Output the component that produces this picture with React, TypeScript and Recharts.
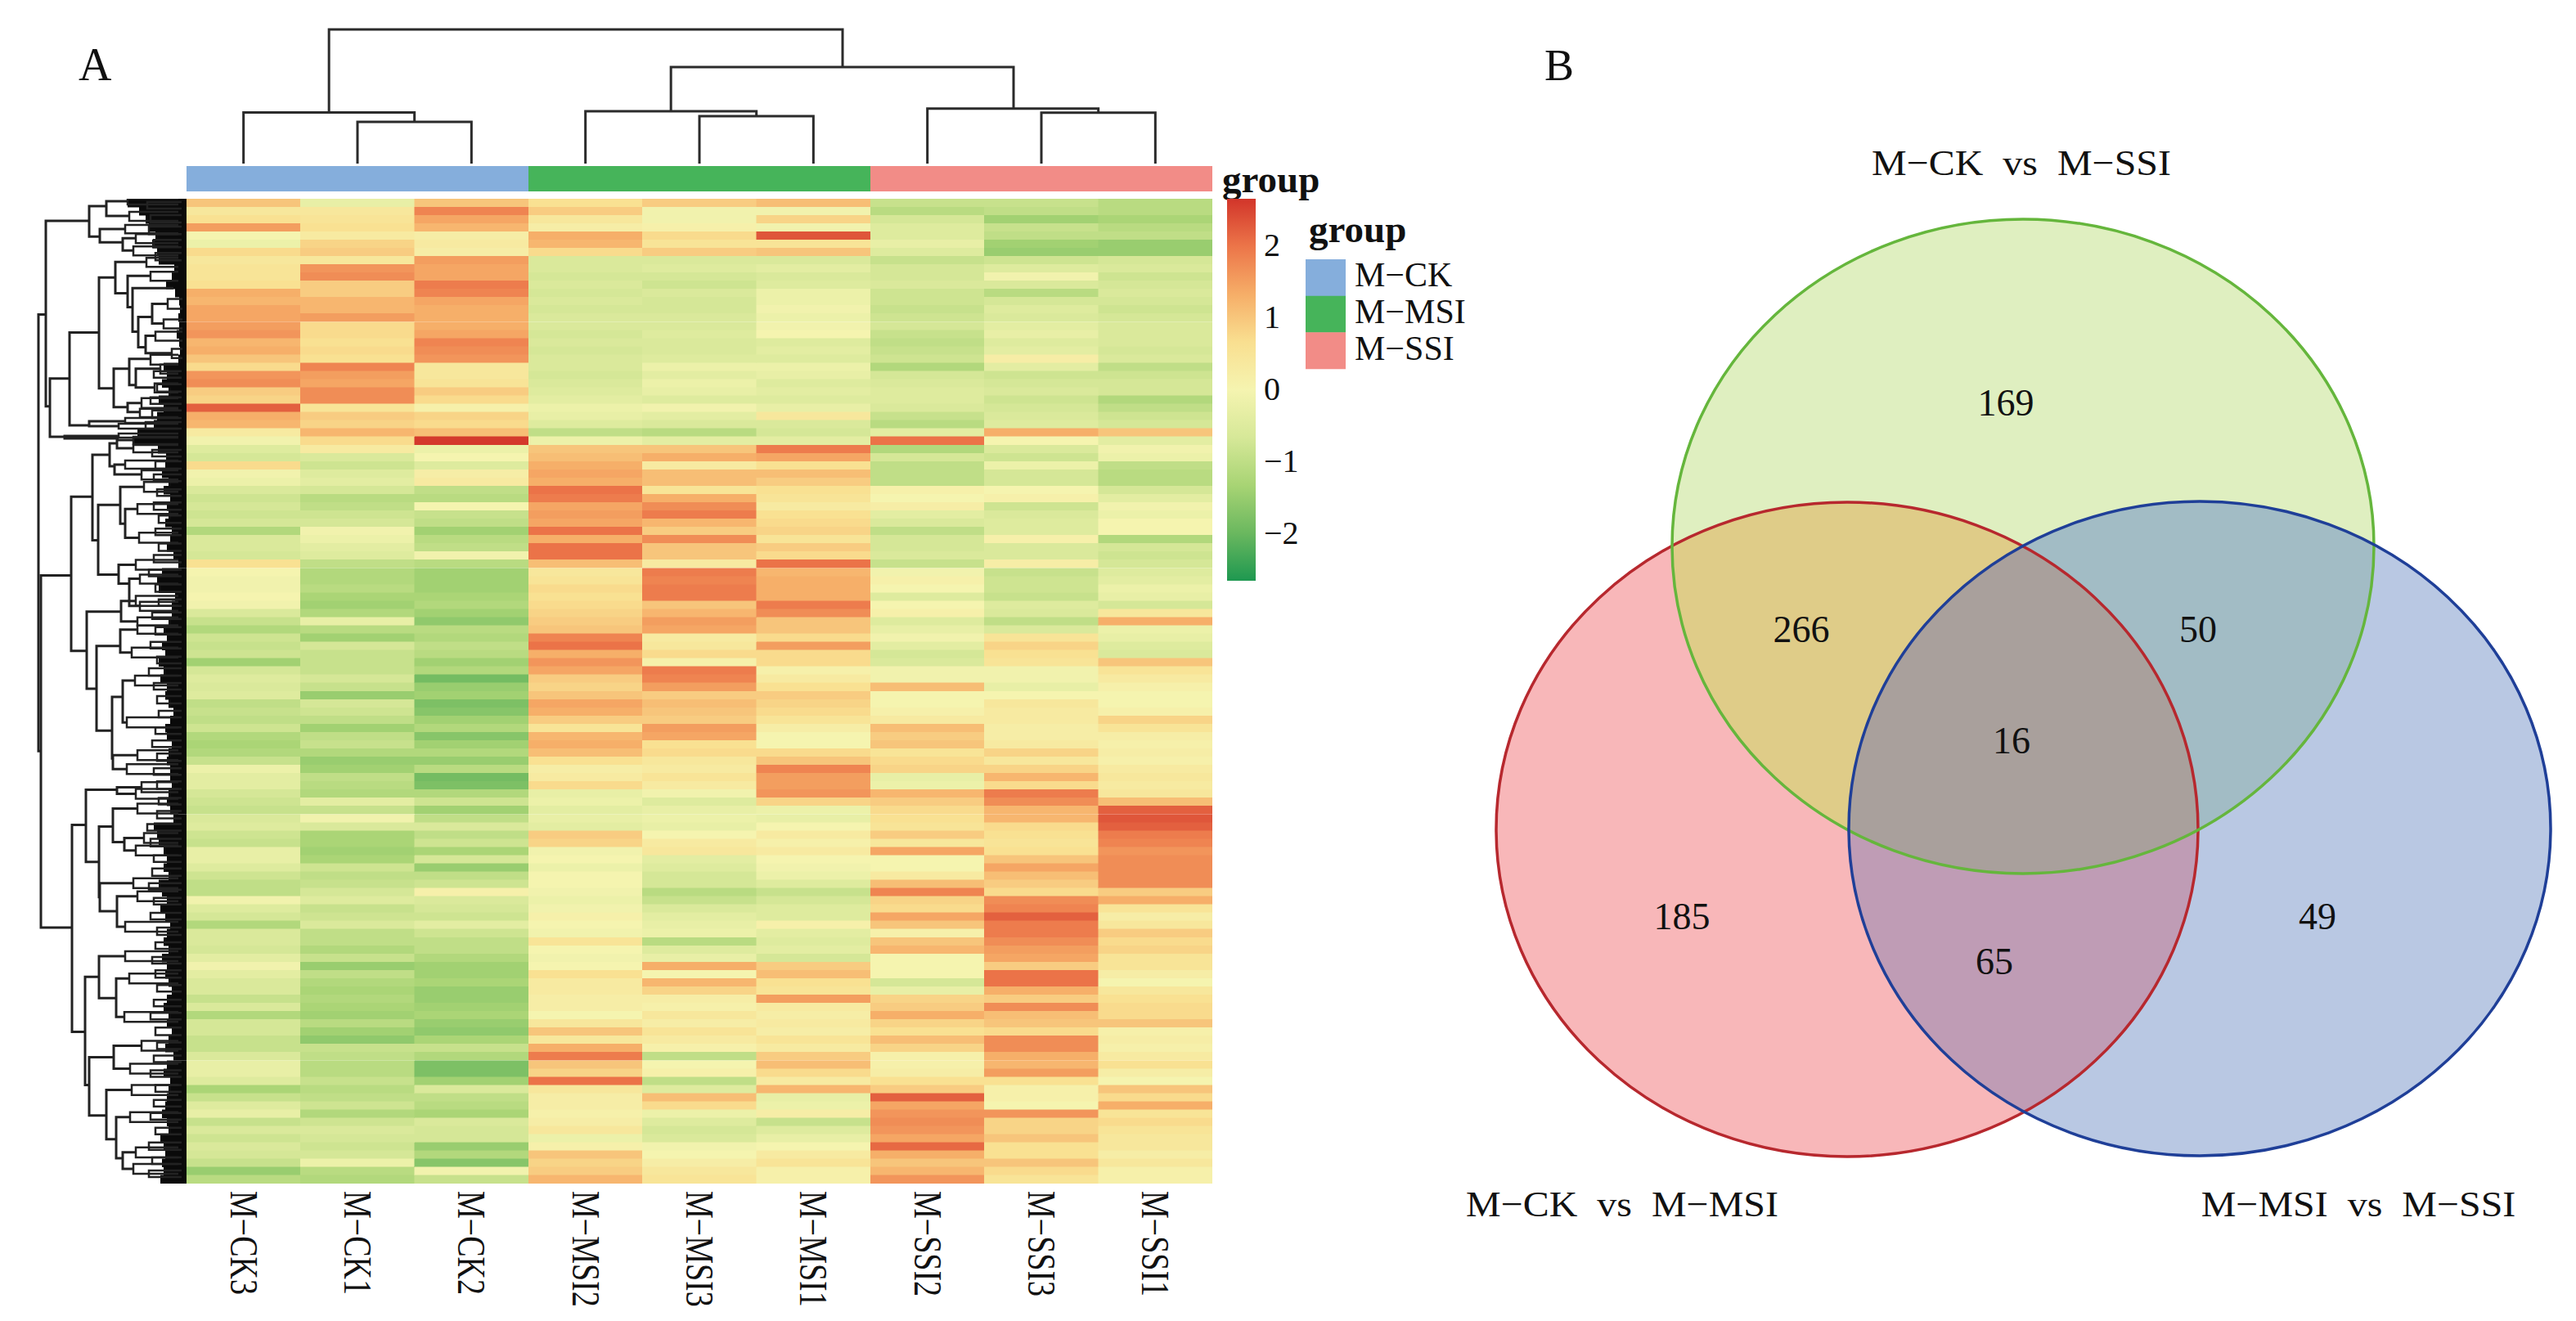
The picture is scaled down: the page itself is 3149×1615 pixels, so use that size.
import { Bar, BarChart, Cell, Scatter, ScatterChart, XAxis, YAxis } from "recharts";

const FONT = "'Liberation Serif', serif";

const sampleNames = ["M−CK3", "M−CK1", "M−CK2", "M−MSI2", "M−MSI3", "M−MSI1", "M−SSI2", "M−SSI3", "M−SSI1"];
const groupNames = ["M−CK", "M−MSI", "M−SSI"];
const groupColors = ["#85AEDC", "#46B45A", "#F28C87"];
const scaleTicks = [-2, -1, 0, 1, 2];

// z-scores per gene row, top to bottom, ten rows a line
const ckThree = [
  1.0, .4, .6, 1.5, 0, -.2, .7, .4, .5, .5,
  .6, 1.3, 1.2, 1.4, 1.4, 1.5, 1.6, 1.2, 1.3, 1.0,
  .7, 1.6, 1.7, .9, .8, 2.2, 1.3, 1.2, .3, -.1,
  -.5, -.7, .7, -.1, -.2, -.6, -.8, -.7, -.8, -.7,
  -1.2, -.6, -.6, -.7, .6, 0, -.1, -.1, 0, -.1,
  -.6, -.9, -1.2, -.8, -.9, -.8, -1.4, -.7, -.5, -.6,
  -.5, -1.0, -.9, -1.0, -.8, -1.2, -1.3, -1.2, -.9, -.2,
  -.4, -.4, -.7, -.8, -.9, -.6, -.5, -.8, -.9, -.3,
  -.3, -.5, -.8, -1.0, -1.0, -.1, -.5, -.7, -1.2, -.6,
  -.6, -.7, -.4, -.1, -.4, -.6, -.6, -.9, -.6, -1.2,
  -.7, -.7, -.9, -.9, -.6, -.3, -.3, -.5, -1.3, -.9,
  -.5, -.3, -.9, -.6, -.8, -.6, -.7, -.9, -1.5, -1.1,
];
const ckOne = [
  -.3, .4, .5, .6, .3, .8, .9, .4, 1.6, 1.7,
  .9, .9, 1.2, 1.2, 1.5, .7, .7, .6, .7, .6,
  1.8, 1.5, 1.4, 1.7, 1.7, .5, .9, .8, 1.2, .7,
  .3, -.6, -.8, -.5, -.4, -.7, -1.1, -1.0, -.8, -.7,
  -.1, -.2, -.4, -.5, -1.0, -1.2, -1.2, -1.1, -1.3, -1.4,
  -1.2, -.3, -1.1, -1.4, -.7, -.9, -.9, -.9, -.7, -.9,
  -1.5, -.7, -.8, -1.0, -1.4, -1.0, -.9, -1.2, -1.5, -1.4,
  -1.0, -1.1, -1.2, -.4, -.9, -.1, -.6, -1.3, -1.3, -1.4,
  -1.3, -.8, -1.0, -.9, -.7, -.5, -.9, -.8, -.6, -1.0,
  -1.0, -1.2, -.9, -1.5, -1.0, -1.2, -1.3, -1.2, -1.3, -1.4,
  -1.1, -1.4, -1.6, -.9, -1.0, -1.1, -1.1, -.9, -1.1, -1.0,
  -.8, -1.2, -.8, -.6, -.7, -.8, -.7, -.2, -1.1, -1.2,
];
const ckTwo = [
  1.0, 1.8, 1.4, 1.2, .2, .3, .2, 1.5, 1.4, 1.4,
  1.9, 1.8, 1.4, 1.3, 1.3, 1.3, 1.4, 1.8, 1.7, 1.6,
  .4, .4, .5, .9, .7, .1, .8, .7, 1.1, 2.6,
  -.2, 0, -.5, .2, .3, -1.0, -1.1, 0, -.9, -1.0,
  -1.4, -1.1, -1.0, -.1, -1.1, -1.4, -1.4, -1.4, -1.3, -1.2,
  -1.4, -1.6, -1.1, -1.2, -1.0, -1.1, -1.4, -1.2, -1.9, -1.5,
  -1.4, -1.8, -1.7, -1.4, -1.2, -1.7, -1.4, -1.2, -1.5, -1.1,
  -1.9, -1.8, -1.2, -.8, -1.4, -1.0, -.6, -1.0, -.8, -1.3,
  -.7, -1.5, -1.0, -.8, .1, -.6, -.7, -.8, -.4, -.8,
  -1.0, -1.0, -1.2, -1.4, -1.4, -1.3, -1.5, -1.5, -1.4, -1.3,
  -1.5, -1.6, -1.3, -.9, -1.2, -1.8, -1.8, -1.4, -.6, -1.0,
  -1.1, -1.3, -.6, -.7, -.7, -1.5, -1.2, -1.7, -.1, -.9,
];
const msiTwo = [
  .6, .9, .4, .2, 1.3, 1.2, .7, -.6, -.6, -.7,
  -.6, -.7, -.6, -.7, -.6, -.6, -.7, -.6, -.7, -.6,
  -.6, -.7, -.6, -.5, -.4, -.2, -.3, -.5, -1.0, -.2,
  1.0, 1.1, 1.3, 1.4, 1.3, 2.0, 1.9, 1.4, 1.5, 1.4,
  2.0, 1.3, 2.0, 2.0, 1.1, .4, .5, .7, .6, .7,
  .8, .9, 1.0, 1.8, 2.0, 1.3, 1.6, 1.4, .9, .8,
  1.0, 1.4, 1.3, .9, .5, 1.2, 1.3, 1.1, .6, .2,
  .3, .7, -.3, -.2, -.4, -.3, -.4, .9, .8, -.1,
  0, -.2, 0, 0, -.1, -.2, -.1, .1, 0, -.1,
  .5, 0, -.1, 0, .6, .3, .3, .2, .2, 0,
  .4, 1.0, .4, 1.3, 1.9, 1.0, .8, 2.0, .4, .2,
  .2, .1, .2, .4, -.2, .1, 1.0, .8, .9, 1.2,
];
const msiThree = [
  .9, -.1, -.1, .1, .7, .5, .9, -.6, -.5, -.7,
  -.8, -.6, -.7, -.7, -.6, -.6, -.5, -.6, -.6, -.5,
  -.2, -.4, -.2, -.3, -.5, -.1, -.4, -.6, -1.1, -.4,
  1.0, 1.3, .3, 1.1, 1.1, .5, 1.3, 1.7, 1.9, 1.2,
  .9, 1.7, 1.0, 1.0, .3, 1.9, 1.8, 1.9, 1.9, 1.0,
  1.2, 1.5, 1.4, .3, .4, .7, .1, 1.9, 1.8, 1.5,
  .9, 1.1, 1.0, .9, 1.5, 1.4, .6, .7, .4, .3,
  .5, .3, -.1, -.5, -.3, -.2, -.3, 0, .3, .4,
  -.4, -.5, -.7, -.7, -1.1, -.9, -.6, -.4, -.3, -.2,
  -1.1, -.5, -.3, 1.3, 0, 1.2, .8, .2, .1, .4,
  .2, .5, .3, .1, -1.0, 0, .1, -1.0, -.5, 1.1,
  .7, -.2, -.5, -.7, -.6, -.1, 0, .2, .4, .5,
];
const msiOne = [
  1.1, -.1, .8, -.1, 2.3, .5, 1.0, -.6, -.4, -.6,
  -.5, -.2, -.2, -.1, -.2, -.1, 0, -.5, -.4, -.5,
  -.2, -.3, -.5, -.4, -.5, -.3, .4, -.6, -.7, -.4,
  1.9, 1.4, .6, 1.1, .9, .6, .5, .3, .6, .7,
  .8, .5, .9, .7, 2.0, 1.2, 1.3, 1.3, 1.3, 1.9,
  1.7, 1.0, 1.0, .7, 1.5, .7, .7, .1, .3, .6,
  .9, .8, .7, .5, .2, 0, 0, .7, 1.0, 1.8,
  1.5, 1.5, 1.6, .8, -.2, -.3, 0, .3, .1, .3,
  0, -.1, -.2, -.5, -.9, -.7, -.5, -.5, .1, -.4,
  -.5, -.4, -.7, .9, 1.1, .6, .5, 1.5, .3, .2,
  .3, .2, .5, .3, .9, 1.1, .7, .3, 1.2, -.3,
  -.2, .2, -.9, -.5, -.3, 0, .3, .5, .1, .1,
];
const ssiTwo = [
  -.9, -1.1, -.7, -.5, -.5, -.3, -.5, -.9, -.7, -.7,
  -.6, -.8, -.8, -.9, -.8, -.7, -.9, -1.0, -.9, -.8,
  -1.2, -.7, -.6, -.5, -.5, -.6, -.9, -1.1, -.4, 2.0,
  -1.2, -.7, -1.0, -1.0, -1.0, .1, 0, .2, -.4, -.6,
  -1.0, -.7, -.7, -.6, -.9, -.1, .1, 0, -.5, 0,
  .1, -.5, -.3, -.1, -.4, -.7, -.6, -.1, -.1, 1.1,
  0, 0, .1, .3, 1.1, .9, 1.0, .5, .7, .8,
  -.3, -.2, 1.2, .9, .7, .6, .5, .9, .4, 1.4,
  0, 0, .3, 1.1, 1.8, .8, .7, 1.4, 1.0, .1,
  1.0, 1.2, 0, 0, 0, -.7, -.3, .8, .9, 1.3,
  .8, .6, 1.1, .8, .1, .1, .2, .6, .9, 2.2,
  1.4, 1.6, 1.7, 1.6, 1.4, 2.1, 1.3, 1.0, 1.2, 1.6,
];
const ssiThree = [
  -.9, -1.0, -1.4, -.9, -1.0, -1.4, -1.5, -.8, -.5, -.1,
  -.6, -1.1, -.7, -.5, -.6, -.4, -.3, -.5, -.4, .2,
  -.4, -.8, -.7, -.6, -.8, -.7, -.6, -.5, 1.3, 0,
  -.6, -.8, -.2, -.7, -.7, 0, .1, -.8, -.6, -.5,
  -.5, .1, -.6, -.6, .2, -.9, -.8, -.8, -.9, -.5,
  -.6, -1.0, -.6, .5, .8, .6, .5, -.1, -.1, -.3,
  0, .4, .3, .3, .2, .2, .3, .8, .4, .8,
  1.2, .7, 1.9, 1.7, 1.2, 1.2, .7, .6, .5, .6,
  1.0, 1.4, 1.1, .9, .7, 1.7, 1.8, 2.2, 1.9, 1.9,
  1.7, 1.5, 1.4, .9, 2.0, 2.0, 1.3, .9, 1.7, 1.1,
  1.0, .7, 1.7, 1.7, 1.3, 1.2, 1.5, .6, .1, .1,
  0, 1.6, .8, .8, 1.0, .6, .6, 1.0, .7, .5,
];
const ssiOne = [
  -1.1, -1.1, -1.3, -1.1, -1.0, -1.5, -1.5, -.7, -.6, -.8,
  -.7, -.6, -.7, -.8, -.7, -.6, -.6, -.6, -.7, -.6,
  -1.0, -.8, -.7, -.7, -1.2, -1.0, -.8, -.7, 1.0, -.4,
  -.1, -.2, -1.0, -1.1, -1.1, -.7, -.4, -.1, -.2, 0,
  0, -1.2, -.7, -.8, -.7, -.5, -.4, -.2, -.3, -.7,
  .4, 1.3, -.2, -.3, -.5, -.6, 1.0, .5, .3, .1,
  0, 0, .1, .8, .5, .2, .1, .2, .1, .3,
  .4, .3, .4, 1.1, 2.2, 2.3, 2.2, 1.9, 1.8, 1.6,
  1.7, 1.7, 1.7, 1.7, .9, 1.3, .5, .2, .4, .9,
  .7, .8, .5, .5, .2, 0, .4, .6, .7, .7,
  1.0, .1, .2, .1, .3, .6, .2, 0, 1.0, .7,
  1.3, .5, .7, .5, .4, .4, .2, .4, .1, .1,
];
const sampleValues = [ckThree, ckOne, ckTwo, msiTwo, msiThree, msiOne, ssiTwo, ssiThree, ssiOne];

// how far the dense leaf fan of the row tree reaches, per row
const leafReach = [
  72, 58, 50, 46, 38, 42, 36, 34, 15, 18,
  25, 14, 9, 8, 10, 9, 12, 9, 8, 10,
  28, 24, 30, 22, 34, 28, 36, 40, 60, 64,
  35, 25, 26, 30, 22, 28, 20, 24, 22, 26,
  18, 20, 24, 16, 10, 30, 36, 34, 14, 18,
  18, 22, 28, 24, 30, 26, 34, 28, 32, 24,
  26, 22, 16, 20, 26, 24, 18, 22, 24, 20,
  20, 18, 22, 24, 20, 16, 40, 36, 34, 28,
  24, 28, 22, 34, 30, 24, 32, 26, 20, 24,
  28, 22, 30, 24, 26, 22, 18, 24, 28, 22,
  24, 18, 22, 26, 16, 24, 28, 20, 22, 24,
  26, 30, 24, 22, 32, 28, 26, 30, 28, 32,
];

// [merge height, upper row, upper child height, lower row, lower child height]
const rowMerges = [
  [181, 14.1, 172, 67.3, 178], [178, 45.9, 141, 88.8, 140], [172, 2.7, 119, 25.3, 167],
  [119, .9, 98, 4.6, 106], [98, .3, 72, 2.1, 70], [106, 3.7, 75, 5.3, 78], [78, 4.8, 62, 6.3, 65],
  [167, 21.9, 143, 29, 149], [143, 16.3, 107, 27.6, 119], [107, 9.6, 87, 23.1, 89],
  [87, 7.7, 49, 11.5, 72], [72, 9.4, 44, 13.2, 66], [66, 10.9, 16, 16.2, 59], [59, 14.4, 42, 18.1, 50],
  [42, 12.8, 23, 15.2, 28], [50, 16.7, 38, 18.8, 18], [89, 20.7, 70, 25.4, 72], [70, 19.5, 44, 22.7, 62],
  [62, 20.7, 32, 23, 39], [72, 24.9, 55, 26, 57], [119, 27.1, 75, 27.7, 83], [149, 28.9, 83, 29.2, 83],
  [141, 36.3, 115, 55.1, 122], [115, 31.2, 94, 41.6, 108], [94, 29.8, 85, 32.6, 88], [85, 29.4, 65, 30.4, 65],
  [88, 32.4, 75, 33.6, 55], [108, 37.3, 81, 45.8, 83], [81, 35.1, 52, 39.6, 75], [75, 37.8, 60, 41.3, 58],
  [83, 44.6, 62, 46.9, 70], [70, 46.3, 57, 49.6, 57], [122, 50.3, 80, 59.7, 110], [80, 49, 62, 51.5, 60],
  [110, 54.5, 81, 64.8, 91], [81, 52.5, 60, 55.3, 67], [91, 60.7, 78, 68.2, 90], [78, 58.7, 63, 63.8, 73],
  [90, 67.8, 60, 69.5, 73], [140, 76.3, 123, 101.5, 124], [123, 72, 85, 80.8, 107], [85, 71.7, 55, 72.5, 62],
  [107, 76.5, 90, 85.1, 106], [90, 74.3, 60, 78.4, 76], [76, 77.9, 52, 79.4, 62], [106, 83.4, 65, 86.8, 85],
  [85, 85, 60, 88.7, 75], [124, 94.8, 107, 108, 119], [107, 92.3, 75, 97.4, 86], [86, 95, 70, 99.7, 76],
  [119, 104.6, 89, 111.7, 98], [89, 103.2, 55, 106, 69], [98, 108.6, 67, 114.6, 86], [86, 111.9, 69, 116.9, 78],
  [78, 116.2, 62, 118.2, 65],
];
const leafForks = [
  [72, 0, 10, .7, 10], [70, 1.6, 10, 2.7, 10], [75, 3.2, 10, 4.2, 10], [62, 4.3, 10, 5.4, 10], [65, 5.8, 10, 6.9, 10],
  [49, 7.2, 10, 8.3, 10], [44, 8.9, 10, 10, 10], [23, 12.2, 5, 13.4, 5], [28, 14.7, 5, 15.8, 5], [38, 16.2, 5, 17.3, 5],
  [18, 18.3, 5, 19.4, 5], [44, 19, 10, 20.2, 10], [32, 20.2, 10, 21.3, 10], [39, 22.5, 10, 23.6, 10], [55, 24.3, 10, 25.5, 10],
  [57, 25.6, 10, 26.6, 10], [75, 26.7, 10, 27.3, 10], [83, 27.4, 10, 28, 10], [83, 28.6, 10, 29.1, 10], [65, 29, 10, 29.9, 10],
  [65, 30, 10, 30.9, 10], [75, 31.9, 10, 32.9, 10], [55, 33.1, 10, 34.2, 10], [52, 34.5, 10, 35.7, 10], [60, 37.2, 10, 38.4, 10],
  [58, 40.7, 10, 41.9, 10], [62, 44, 10, 45.2, 10], [57, 45.8, 10, 46.9, 10], [57, 49.1, 10, 50.2, 10], [62, 48.4, 10, 49.6, 10],
  [60, 51, 10, 52, 10], [60, 52, 10, 53, 10], [67, 54.7, 10, 55.9, 10], [63, 58.1, 10, 59.3, 10], [73, 63.2, 10, 64.4, 10],
  [60, 67.2, 10, 68.4, 10], [73, 68.9, 10, 70.1, 10], [55, 71.1, 10, 72.3, 10], [62, 71.9, 10, 73.1, 10], [60, 73.7, 10, 74.9, 10],
  [52, 77.3, 10, 78.5, 10], [62, 78.8, 10, 80, 10], [65, 82.8, 10, 84, 10], [60, 84.4, 10, 85.6, 10], [75, 88.1, 10, 89.3, 10],
  [75, 91.7, 10, 92.9, 10], [70, 94.4, 10, 95.6, 10], [76, 99.1, 10, 100.3, 10], [55, 102.6, 10, 103.8, 10], [69, 105.4, 10, 106.6, 10],
  [67, 108, 10, 109.2, 10], [69, 111.3, 10, 112.5, 10], [62, 115.6, 10, 116.8, 10], [65, 117.6, 10, 118.8, 10],
  // finest twigs next to the fan
  [48, .4, 6, 1.2, 6], [44, 2, 6, 2.9, 6], [46, 3.4, 6, 4.3, 6], [40, 5, 6, 5.9, 6], [38, 6.6, 6, 7.5, 6],
  [40, 21, 6, 21.8, 6], [36, 22.6, 6, 23.5, 6], [44, 24.2, 6, 25, 6], [42, 25.8, 6, 26.7, 6], [50, 27.2, 6, 28, 6],
  [42, 30.6, 6, 31.4, 6], [38, 32, 6, 32.9, 6], [40, 33.6, 6, 34.4, 6], [36, 35.4, 6, 36.2, 6], [40, 37, 6, 37.9, 6],
  [34, 38.6, 6, 39.5, 6], [38, 40.2, 6, 41, 6], [34, 42, 6, 42.9, 6], [40, 43.4, 6, 44.3, 6], [46, 45.2, 6, 46, 6],
  [38, 47, 6, 47.9, 6], [34, 48.8, 6, 49.6, 6], [42, 50.4, 6, 51.2, 6], [38, 52.2, 6, 53.1, 6], [44, 54, 6, 54.8, 6],
  [36, 55.8, 6, 56.6, 6], [46, 57.2, 6, 58.1, 6], [40, 59, 6, 59.8, 6], [36, 60.6, 6, 61.5, 6], [34, 62.4, 6, 63.2, 6],
  [38, 64.4, 6, 65.2, 6], [42, 66, 6, 66.8, 6], [36, 67.6, 6, 68.5, 6], [40, 69.4, 6, 70.2, 6], [36, 71, 6, 71.9, 6],
  [34, 73, 6, 73.8, 6], [36, 74.6, 6, 75.5, 6], [48, 76.2, 6, 77, 6], [44, 78, 6, 78.9, 6], [40, 80, 6, 80.8, 6],
  [42, 81.6, 6, 82.5, 6], [46, 83.4, 6, 84.2, 6], [40, 85.2, 6, 86, 6], [44, 87, 6, 87.8, 6], [36, 88.8, 6, 89.7, 6],
  [38, 90.6, 6, 91.4, 6], [42, 92.4, 6, 93.2, 6], [38, 94, 6, 94.9, 6], [36, 95.8, 6, 96.6, 6], [40, 97.6, 6, 98.4, 6],
  [44, 99.2, 6, 100, 6], [38, 101, 6, 101.9, 6], [36, 102.8, 6, 103.6, 6], [40, 104.4, 6, 105.2, 6], [44, 106.2, 6, 107, 6],
  [38, 108, 6, 108.8, 6], [40, 109.8, 6, 110.6, 6], [44, 111.4, 6, 112.2, 6], [38, 113.2, 6, 114, 6], [46, 115, 6, 115.9, 6],
  [42, 116.8, 6, 117.6, 6], [46, 118.4, 6, 119.2, 6],
];
// [merge height, left position, left child height, right position, right child height]
const columnMerges = [
  [164, 1.25, 62.5, 5.756, 118], [62.5, .5, 0, 2, 51], [51, 1.5, 0, 2.5, 0],
  [118, 4.25, 64, 7.256, 67.3], [64, 3.5, 0, 5, 58], [58, 4.5, 0, 5.5, 0],
  [67.3, 6.5, 0, 8, 62.3], [62.3, 7.5, 0, 8.5, 0],
];

// Venn sets, overlaps and counts, in plot units of the right panel
const vennSets = [
  { x: 508, y: 1014, id: "red", fill: "#F8B7B9", stroke: "#B7282E" },
  { x: 723, y: 668, id: "green", fill: "#DFEFC0", stroke: "#65B63C" },
  { x: 939, y: 1013, id: "blue", fill: "#B9C8E3", stroke: "#1F3F98" },
];
const vennOverlaps = [
  { x: 723, y: 668, clips: ["red"], fill: "#DFCC88" },
  { x: 939, y: 1013, clips: ["green"], fill: "#A2BCC5" },
  { x: 939, y: 1013, clips: ["red"], fill: "#BF9CB5" },
  { x: 939, y: 1013, clips: ["red", "green"], fill: "#A9A09C" },
];
const vennCounts = [
  { x: 702, y: 492, label: "169" }, { x: 452, y: 769, label: "266" }, { x: 937, y: 769, label: "50" },
  { x: 709, y: 905, label: "16" }, { x: 306, y: 1120, label: "185" }, { x: 688, y: 1175, label: "65" },
  { x: 1083, y: 1120, label: "49" },
];
const vennTitles = [
  { x: 721, y: 199, label: "M−CK  vs  M−SSI" },
  { x: 233, y: 1472, label: "M−CK  vs  M−MSI" },
  { x: 1133, y: 1472, label: "M−MSI  vs  M−SSI" },
];

const rampStops: [number, string][] = [
  [-2.67, "#1E9850"], [-2, "#6BB85F"], [-1.34, "#A8D474"], [-0.68, "#D6E898"], [-0.015, "#F5F4B0"],
  [0.65, "#F9DF90"], [1.31, "#F6AE68"], [1.98, "#EC7549"], [2.64, "#D2352A"],
];
const hexPart = (c: string, i: number) => parseInt(c.slice(1 + i * 2, 3 + i * 2), 16);
function ramp(v: number) {
  for (let i = 1; i < rampStops.length; i++) {
    if (v <= rampStops[i][0]) {
      const [a, ca] = rampStops[i - 1];
      const [b, cb] = rampStops[i];
      const t = (v - a) / (b - a);
      const mix = [0, 1, 2].map((k) => Math.round(hexPart(ca, k) * (1 - t) + hexPart(cb, k) * t));
      return `rgb(${mix.join(",")})`;
    }
  }
  return rampStops[rampStops.length - 1][1];
}

const heatRows = ckThree.map((_, row) => {
  const r: Record<string, number> = { row };
  sampleNames.forEach((_, c) => (r[`w${c}`] = 1));
  return r;
});
const fanRows = leafReach.map((reach, row) => ({ row, reach }));
const groupRow = [{ name: "group", a: 3, b: 3, c: 3 }];
const legendRows = groupNames.map((name) => ({ name, one: 1 }));
const scaleRow = [{ name: "scale", span: [-2.67, 2.64] }];

const rowPath = ([h, ra, ha, rb, hb]: number[]) => [
  { h: ha, row: ra }, { h, row: ra }, { h, row: rb }, { h: hb, row: rb },
];
const colPath = ([h, xa, ha, xb, hb]: number[]) => [
  { pos: xa, h: ha }, { pos: xa, h }, { pos: xb, h }, { pos: xb, h: hb },
];

const noDot = () => <g />;
const MARGIN0 = { top: 0, right: 0, bottom: 0, left: 0 };
const VENN_RX = 429;
const VENN_RY = 400;

function SampleTick({ x, y, payload }: any) {
  return (
    <text
      transform={`translate(${x} ${y + 1}) rotate(90) scale(1 1.25)`}
      dominantBaseline="central"
      fontFamily={FONT}
      fontSize={38}
      fill="#111"
    >
      {sampleNames[Math.floor(payload.value)]}
    </text>
  );
}

function VennBase(p: any) {
  return (
    <g>
      <clipPath id={`clip-${p.payload.id}`}>
        <ellipse cx={p.cx} cy={p.cy} rx={VENN_RX} ry={VENN_RY} />
      </clipPath>
      <ellipse cx={p.cx} cy={p.cy} rx={VENN_RX} ry={VENN_RY} fill={p.payload.fill} />
    </g>
  );
}

function VennOverlap(p: any) {
  const [first, second] = p.payload.clips;
  const shape = <ellipse cx={p.cx} cy={p.cy} rx={VENN_RX} ry={VENN_RY} fill={p.payload.fill} clipPath={`url(#clip-${first})`} />;
  return second ? <g clipPath={`url(#clip-${second})`}>{shape}</g> : shape;
}

function at(left: number, top: number, extra = {}) {
  return { position: "absolute" as const, left, top, ...extra };
}

export default function App() {
  return (
    <div style={at(0, 0, { width: 3149, height: 1615, background: "#fff", overflow: "hidden", fontFamily: FONT })}>
      <div style={at(96, 44, { fontSize: 56, lineHeight: "70px", color: "#111" })}>A</div>
      <div style={at(1888, 45, { fontSize: 54, lineHeight: "70px", color: "#111" })}>B</div>

      {/* column dendrogram */}
      <div style={at(228, 20)}>
        <ScatterChart width={1254} height={180} margin={MARGIN0}>
          <XAxis type="number" dataKey="pos" domain={[0, 9]} hide />
          <YAxis type="number" dataKey="h" domain={[0, 180]} hide />
          {columnMerges.map((m, i) => (
            <Scatter key={i} data={colPath(m)} shape={noDot} line={{ stroke: "#2b2b2b", strokeWidth: 3 }} isAnimationActive={false} />
          ))}
        </ScatterChart>
      </div>

      {/* group annotation strip */}
      <div style={at(228, 173)}>
        <BarChart width={1400} height={91} data={groupRow} layout="vertical" barCategoryGap={0} margin={{ top: 30, right: 0, bottom: 30, left: 0 }}>
          <XAxis type="number" domain={[0, 9]} hide />
          <YAxis
            type="category"
            dataKey="name"
            orientation="right"
            width={146}
            interval={0}
            axisLine={false}
            tickLine={false}
            tick={{ fontFamily: FONT, fontSize: 47, fontWeight: 700, fill: "#111", textAnchor: "start", dx: 4 }}
          />
          <Bar dataKey="a" stackId="g" fill={groupColors[0]} isAnimationActive={false} />
          <Bar dataKey="b" stackId="g" fill={groupColors[1]} isAnimationActive={false} />
          <Bar dataKey="c" stackId="g" fill={groupColors[2]} isAnimationActive={false} />
        </BarChart>
      </div>

      {/* row dendrogram and leaf fan */}
      <div style={at(0, 243, { shapeRendering: "crispEdges" })}>
        <BarChart width={228} height={1204} data={fanRows} layout="vertical" barCategoryGap={0} margin={MARGIN0}>
          <XAxis type="number" domain={[0, 228]} reversed hide />
          <YAxis type="category" dataKey="row" hide />
          <Bar dataKey="reach" fill="#0a0a0a" stroke="#0a0a0a" strokeWidth={0.5} isAnimationActive={false} />
        </BarChart>
      </div>
      <div style={at(0, 243)}>
        <ScatterChart width={228} height={1204} margin={MARGIN0}>
          <XAxis type="number" dataKey="h" domain={[0, 228]} reversed hide />
          <YAxis type="number" dataKey="row" domain={[0, 120]} reversed hide />
          {rowMerges.map((m, i) => (
            <Scatter key={i} data={rowPath(m)} shape={noDot} line={{ stroke: "#222", strokeWidth: 3 }} isAnimationActive={false} />
          ))}
          {leafForks.map((m, i) => (
            <Scatter key={`f${i}`} data={rowPath(m)} shape={noDot} line={{ stroke: "#222", strokeWidth: 2.5 }} isAnimationActive={false} />
          ))}
        </ScatterChart>
      </div>

      {/* heatmap */}
      <div style={at(228, 243, { shapeRendering: "crispEdges" })}>
        <BarChart width={1254} height={1374} data={heatRows} layout="vertical" barCategoryGap={0} barGap={0} margin={MARGIN0}>
          <XAxis
            type="number"
            domain={[0, 9]}
            ticks={[0.5, 1.5, 2.5, 3.5, 4.5, 5.5, 6.5, 7.5, 8.5]}
            interval={0}
            height={170}
            axisLine={false}
            tickLine={false}
            tick={<SampleTick />}
          />
          <YAxis type="category" dataKey="row" hide />
          {sampleValues.map((values, c) => (
            <Bar key={c} dataKey={`w${c}`} stackId="cells" isAnimationActive={false}>
              {values.map((v, i) => (
                <Cell key={i} fill={ramp(v)} stroke={ramp(v)} strokeWidth={0.5} />
              ))}
            </Bar>
          ))}
        </BarChart>
      </div>

      {/* colour scale */}
      <div style={at(1500, 243)}>
        <BarChart width={140} height={467} data={scaleRow} barCategoryGap={0} margin={MARGIN0}>
          <defs>
            <linearGradient id="scaleFill" x1="0" y1="1" x2="0" y2="0">
              {rampStops.map(([v, c]) => (
                <stop key={v} offset={(v + 2.67) / 5.31} stopColor={c} />
              ))}
            </linearGradient>
          </defs>
          <XAxis dataKey="name" hide />
          <YAxis
            type="number"
            orientation="right"
            domain={[-2.67, 2.64]}
            ticks={scaleTicks}
            width={105}
            axisLine={false}
            tickLine={false}
            tickMargin={4}
            tickFormatter={(v: number) => String(v).replace("-", "−")}
            tick={{ fontFamily: FONT, fontSize: 40, fill: "#111" }}
          />
          <Bar dataKey="span" fill="url(#scaleFill)" isAnimationActive={false} />
        </BarChart>
      </div>

      {/* group legend */}
      <div style={at(1600, 251, { fontSize: 47, fontWeight: 700, lineHeight: "58px", color: "#111" })}>group</div>
      <div style={at(1596, 297)}>
        <BarChart width={240} height={174} data={legendRows} layout="vertical" barCategoryGap={0} margin={{ top: 20, right: 0, bottom: 20, left: 0 }}>
          <XAxis type="number" domain={[0, 1]} hide />
          <YAxis
            type="category"
            dataKey="name"
            orientation="right"
            width={191}
            interval={0}
            axisLine={false}
            tickLine={false}
            tick={{ fontFamily: FONT, fontSize: 42, fill: "#111", textAnchor: "start", dx: 3, dy: -4 }}
          />
          <Bar dataKey="one" isAnimationActive={false}>
            {groupColors.map((c) => (
              <Cell key={c} fill={c} />
            ))}
          </Bar>
        </BarChart>
      </div>

      {/* Venn panel */}
      <div style={at(1750, 0)}>
        <ScatterChart width={1399} height={1615} margin={MARGIN0}>
          <XAxis type="number" dataKey="x" domain={[0, 1399]} hide />
          <YAxis type="number" dataKey="y" domain={[0, 1615]} reversed hide />
          <Scatter data={vennSets} isAnimationActive={false} shape={(p: any) => <VennBase {...p} />} />
          <Scatter data={vennOverlaps} isAnimationActive={false} shape={(p: any) => <VennOverlap {...p} />} />
          <Scatter
            data={vennSets}
            isAnimationActive={false}
            shape={(p: any) => <ellipse cx={p.cx} cy={p.cy} rx={VENN_RX} ry={VENN_RY} fill="none" stroke={p.payload.stroke} strokeWidth={3.5} />}
          />
          <Scatter
            data={vennCounts}
            isAnimationActive={false}
            shape={(p: any) => (
              <text x={p.cx} y={p.cy} textAnchor="middle" dominantBaseline="central" fontFamily={FONT} fontSize={46} fill="#111">
                {p.payload.label}
              </text>
            )}
          />
          <Scatter
            data={vennTitles}
            isAnimationActive={false}
            shape={(p: any) => (
              <text
                transform={`translate(${p.cx} ${p.cy}) scale(1.09 1)`}
                textAnchor="middle"
                dominantBaseline="central"
                fontFamily={FONT}
                fontSize={44}
                fill="#111"
                style={{ whiteSpace: "pre" }}
              >
                {p.payload.label}
              </text>
            )}
          />
        </ScatterChart>
      </div>
    </div>
  );
}
